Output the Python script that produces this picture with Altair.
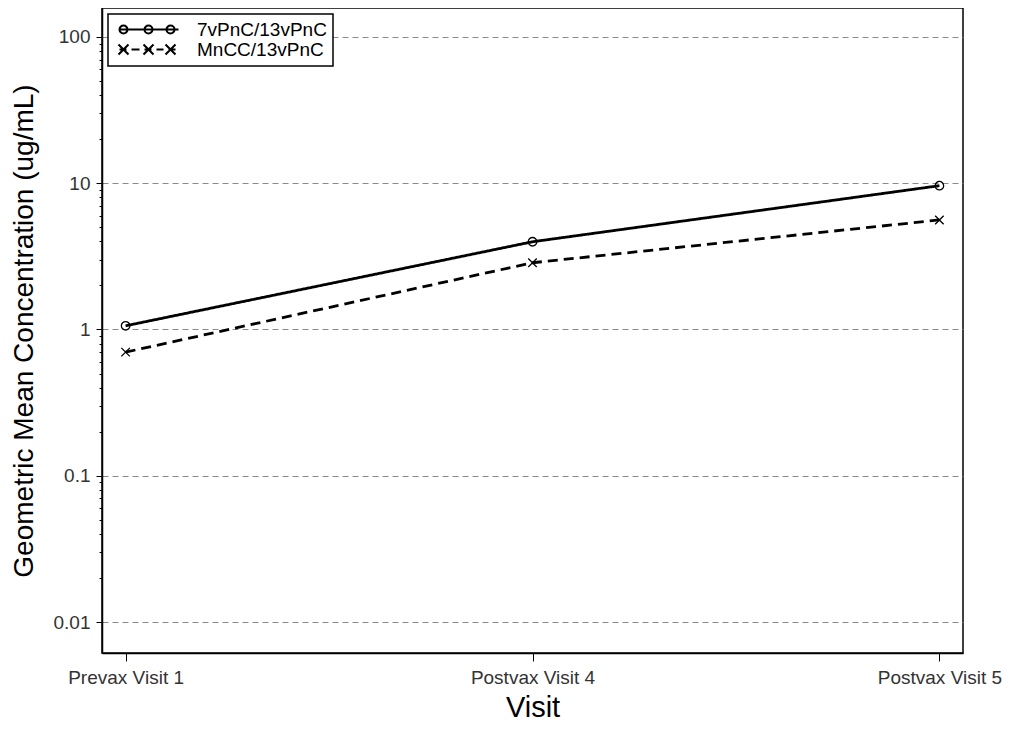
import altair as alt
import pandas as pd

visits = ["Prevax Visit 1", "Postvax Visit 4", "Postvax Visit 5"]
series_names = ["7vPnC/13vPnC", "MnCC/13vPnC"]
gmc_7v = [1.06, 3.98, 9.62]
gmc_mn = [0.70, 2.86, 5.61]

decades = [0.01, 0.1, 1, 10, 100]
minor_mult = [1, 2, 3, 4, 5, 6, 7, 8, 9]
tick_values = [round(d * m, 6) for d in decades[:-1] for m in minor_mult] + [100]

rows = []
for v, a, b in zip(visits, gmc_7v, gmc_mn):
    rows.append({"visit": v, "series": series_names[0], "value": a})
    rows.append({"visit": v, "series": series_names[1], "value": b})
df = pd.DataFrame(rows)

FONT = "Liberation Sans"


# legend symbol paths (unit = 6 px with symbolSize 144)
def circ(cx, r, u):
    k = 0.5523 * r
    p = f"M{(cx + r) / u:.3f},0 "
    p += f"C{(cx + r) / u:.3f},{k / u:.3f} {(cx + k) / u:.3f},{r / u:.3f} {cx / u:.3f},{r / u:.3f} "
    p += f"C{(cx - k) / u:.3f},{r / u:.3f} {(cx - r) / u:.3f},{k / u:.3f} {(cx - r) / u:.3f},0 "
    p += f"C{(cx - r) / u:.3f},{-k / u:.3f} {(cx - k) / u:.3f},{-r / u:.3f} {cx / u:.3f},{-r / u:.3f} "
    p += f"C{(cx + k) / u:.3f},{-r / u:.3f} {(cx + r) / u:.3f},{-k / u:.3f} {(cx + r) / u:.3f},0 "
    return p


def cross(cx, h, u):
    return (f"M{(cx - h) / u:.3f},{-h / u:.3f}L{(cx + h) / u:.3f},{h / u:.3f}"
            f"M{(cx - h) / u:.3f},{h / u:.3f}L{(cx + h) / u:.3f},{-h / u:.3f}")


U = 6.0
marker_x = [0, 25, 47]
path_solid = f"M{-4 / U:.3f},0L{55 / U:.3f},0" + "".join(circ(c, 4, U) for c in marker_x)
dash_segs = [(-4, 3), (8, 16), (21, 28), (33, 40), (45, 52)]
path_dash = "".join(f"M{a / U:.3f},0L{b / U:.3f},0" for a, b in dash_segs) + "".join(cross(c, 5, U) for c in marker_x)
x_marker = "M-1,-1L1,1M-1,1L1,-1"

is_decade = "indexof([0.01,0.1,1,10,100], datum.value) >= 0"

x_enc = alt.X(
    "visit:N",
    sort=visits,
    scale=alt.Scale(type="point", padding=0.058),
    axis=alt.Axis(
        title="Visit", labelAngle=0, grid=False, tickSize=8,
        labelFontSize=19, labelColor="#333", labelFont=FONT, labelPadding=7,
        titleFontSize=29, titleFont=FONT, titleFontWeight="normal", titleColor="black",
        titlePadding=6, domainColor="black", domainWidth=1.5, tickColor="black",
    ),
)
y_enc = alt.Y(
    "value:Q",
    scale=alt.Scale(type="log", domain=[0.00614, 157.8], nice=False),
    axis=alt.Axis(
        title="Geometric Mean Concentration (ug/mL)",
        values=tick_values,
        labelExpr=f"{is_decade} ? datum.value + '' : ''",
        labelOverlap=False,
        tickSize={"condition": {"test": is_decade, "value": 6}, "value": 3},
        gridOpacity={"condition": {"test": is_decade, "value": 1}, "value": 0},
        grid=True, gridDash=[6, 4], gridColor="#8a8a8a", gridWidth=1,
        labelFontSize=19, labelColor="#333", labelFont=FONT, labelPadding=6,
        titleFontSize=28, titleFont=FONT, titleFontWeight="normal", titleColor="black",
        titlePadding=15, domainColor="black", domainWidth=1.5, tickColor="black",
    ),
)

base = alt.Chart(df).encode(x=x_enc, y=y_enc)

lines = base.mark_line(color="black", strokeWidth=2.8).encode(
    strokeDash=alt.StrokeDash(
        "series:N",
        scale=alt.Scale(domain=series_names, range=[[1, 0], [10, 6]]),
        legend=None,
    )
)

markers = base.mark_point(filled=False, color="black", strokeWidth=1.3, size=72, opacity=1).encode(
    shape=alt.Shape(
        "series:N",
        scale=alt.Scale(domain=series_names, range=["circle", x_marker]),
        legend=None,
    )
)

legend_layer = base.mark_point(filled=False, color="black", size=144, opacity=0).encode(
    shape=alt.Shape(
        "series:N",
        scale=alt.Scale(domain=series_names, range=[path_solid, path_dash]),
        legend=alt.Legend(
            title=None, orient="none", legendX=6, legendY=6,
            symbolSize=144, symbolStrokeWidth=2, symbolStrokeColor="black",
            symbolFillColor="transparent",
            labelFont=FONT, labelFontSize=19, labelColor="black", labelOffset=64,
            padding=6, rowPadding=-9,
            strokeColor="black", fillColor="white",
        ),
    )
)

chart = (
    alt.layer(lines, markers, legend_layer)
    .resolve_scale(shape="independent")
    .properties(
        width=861, height=645,
        autosize=alt.AutoSizeParams(type="none"),
        padding={"left": 94, "top": 0, "right": 39, "bottom": 72},
        background="white",
    )
    .configure_view(stroke="black", strokeWidth=1.5)
    .configure_legend(strokeWidth=1.5)
)

chart.save("out.html", embed_options={"renderer": "svg", "actions": False})
